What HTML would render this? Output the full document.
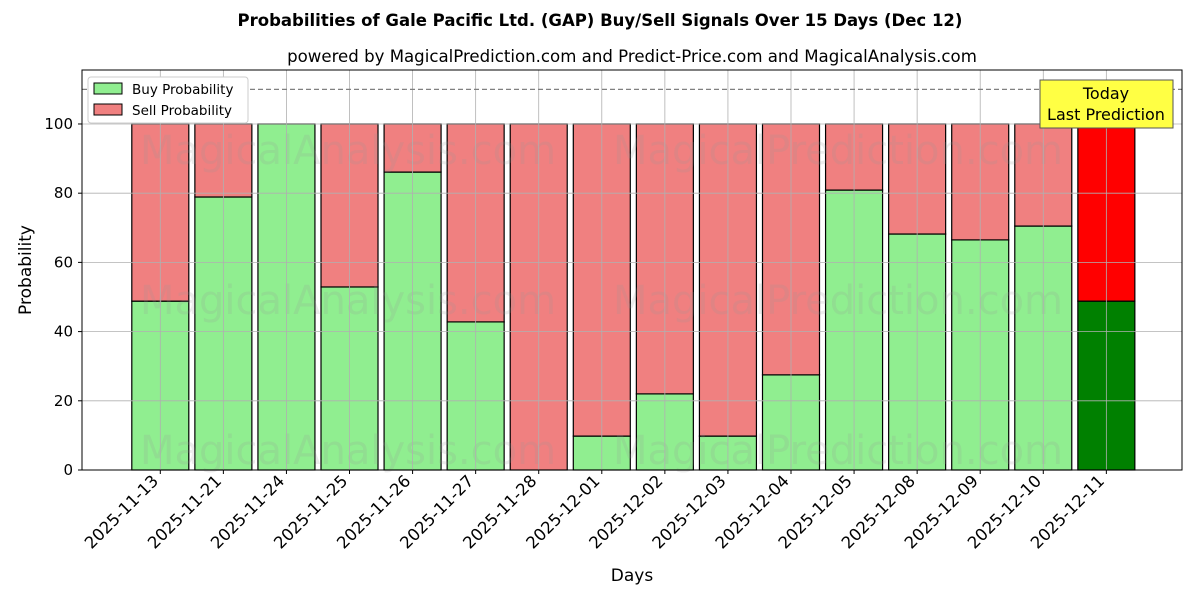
<!DOCTYPE html>
<html><head><meta charset="utf-8"><style>body{margin:0;background:#fff}svg{font-family:"DejaVu Sans","Liberation Sans",sans-serif}</style></head>
<body>
<svg id="c" width="1200" height="600" xmlns="http://www.w3.org/2000/svg">
<text x="600" y="26" text-anchor="middle" font-size="16.5" font-weight="bold">Probabilities of Gale Pacific Ltd. (GAP) Buy/Sell Signals Over 15 Days (Dec 12)</text>
<text x="632" y="62" text-anchor="middle" font-size="16.6">powered by MagicalPrediction.com and Predict-Price.com and MagicalAnalysis.com</text>
<g id="plot"></g>
<text x="632" y="581" text-anchor="middle" font-size="17">Days</text>
<text transform="translate(31,270) rotate(-90)" text-anchor="middle" font-size="17">Probability</text>
</svg>
<script>
const days=["2025-11-13","2025-11-21","2025-11-24","2025-11-25","2025-11-26","2025-11-27","2025-11-28","2025-12-01","2025-12-02","2025-12-03","2025-12-04","2025-12-05","2025-12-08","2025-12-09","2025-12-10","2025-12-11"];
const buy=[48.8,78.9,100,52.9,86.1,42.8,0,9.8,22.0,9.8,27.5,80.9,68.2,66.5,70.5,48.8];
const yTicks=[0,20,40,60,80,100];
const L=82,R=1182,T=70,B=470;
const x=i=>160.3+i*63.07;
const y=v=>B-(v/115.6)*(B-T);
const g=document.getElementById('plot');
const NS="http://www.w3.org/2000/svg";
function mk(t,a,p){const e=document.createElementNS(NS,t);for(const k in a)e.setAttribute(k,a[k]);(p||g).appendChild(e);return e;}
const bw=57;
days.forEach((d,i)=>{
 const last=i===days.length-1;
 const b=mk('rect',{x:x(i)-bw/2,y:y(buy[i]),width:bw,height:y(0)-y(buy[i]),fill:last?'#008000':'#90ee90',stroke:'#000','stroke-width':1.2});
 
 
 const s=mk('rect',{x:x(i)-bw/2,y:y(100),width:bw,height:y(buy[i])-y(100),fill:last?'#ff0000':'#f08080',stroke:'#000','stroke-width':1.2});
 
 
});
[150,300,450].forEach(yy=>{
 [[348,"MagicalAnalysis.com"],[838,"MagicalPrediction.com"]].forEach(([xx,t])=>{
  const e=mk('text',{x:xx,y:yy+14,'text-anchor':'middle','font-size':40,fill:'rgba(150,150,150,0.18)'});e.textContent=t;
  
  
 });
});
yTicks.forEach(v=>{
 const l=mk('line',{x1:L,x2:R,y1:y(v),y2:y(v),stroke:'#b0b0b0','stroke-width':0.8});
 
 
 mk('line',{x1:L-4,x2:L,y1:y(v),y2:y(v),stroke:'#000'});
 const t=mk('text',{x:L-9,y:y(v)+5,'text-anchor':'end','font-size':15});t.textContent=v;
 
 
});
days.forEach((d,i)=>{
 const l=mk('line',{x1:x(i),x2:x(i),y1:T,y2:B,stroke:'#b0b0b0','stroke-width':0.8});
 
 
 mk('line',{x1:x(i),x2:x(i),y1:B,y2:B+4,stroke:'#000'});
 const t=mk('text',{transform:`translate(${x(i)-1},${B+12}) rotate(-45)`,'text-anchor':'end','font-size':16.5});t.textContent=d;
 
 
});
const dl=mk('line',{x1:L,x2:R,y1:y(110),y2:y(110),stroke:'#808080','stroke-dasharray':'5,3','stroke-width':1.2});


const fr=mk('rect',{x:L,y:T,width:R-L,height:B-T,fill:'none',stroke:'#000','stroke-width':1});


const lg=mk('g',{});


mk('rect',{x:88,y:77,width:160,height:46,fill:'#fff',stroke:'#ccc',rx:3},lg);
mk('rect',{x:94,y:83,width:28,height:11,fill:'#90ee90',stroke:'#000'},lg);
mk('rect',{x:94,y:104,width:28,height:11,fill:'#f08080',stroke:'#000'},lg);
let t1=mk('text',{x:132,y:94,'font-size':13.5},lg);t1.textContent='Buy Probability';
let t2=mk('text',{x:132,y:115,'font-size':13.5},lg);t2.textContent='Sell Probability';
const tb=mk('g',{});


mk('rect',{x:1040,y:80,width:133,height:48,fill:'#ffff44',stroke:'#555'},tb);
let a=mk('text',{x:1106,y:99,'text-anchor':'middle','font-size':16},tb);a.textContent='Today';
let b2=mk('text',{x:1106,y:120,'text-anchor':'middle','font-size':16},tb);b2.textContent='Last Prediction';
</script>
</body></html>
